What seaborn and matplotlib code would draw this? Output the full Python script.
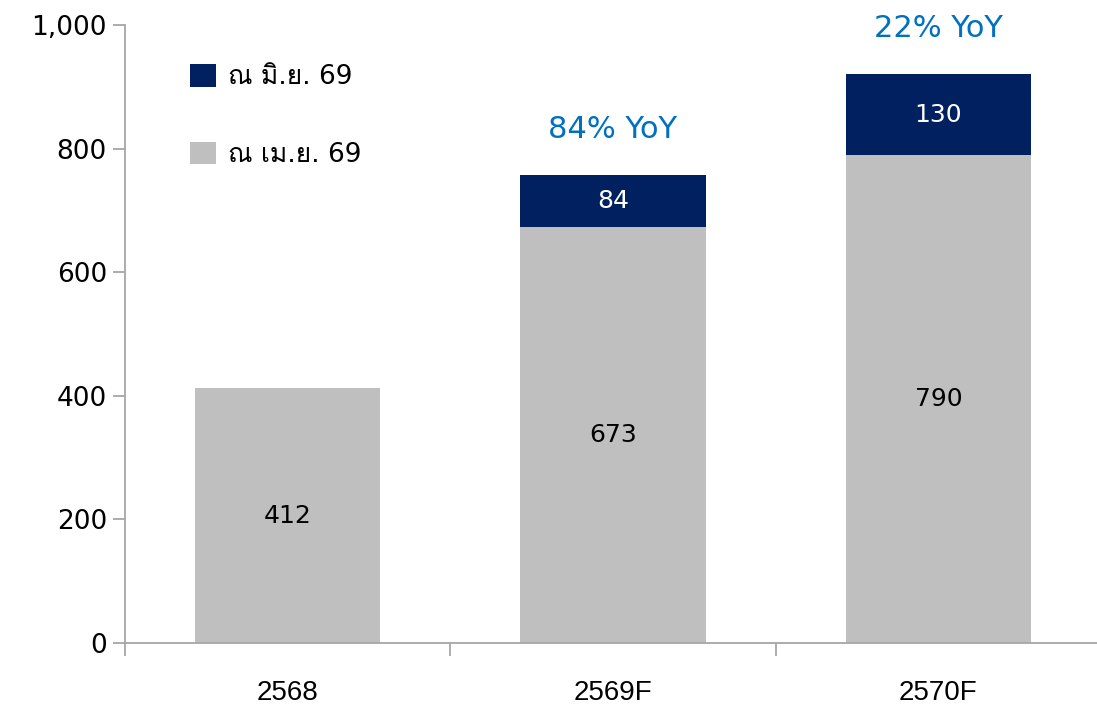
import matplotlib
matplotlib.use("Agg")
import matplotlib.pyplot as plt
import seaborn as sns
import pandas as pd
from matplotlib import font_manager
from matplotlib.patches import Patch
from matplotlib.ticker import FuncFormatter, FixedLocator

years = ["2568", "2569F", "2570F"]
april_values = [412, 673, 790]       # ณ เม.ย. 69
june_increment = [0, 84, 130]        # ณ มิ.ย. 69
yoy_labels = ["", "84% YoY", "22% YoY"]
series_names = ["ณ มิ.ย. 69", "ณ เม.ย. 69"]

GRAY = "#BFBFBF"
NAVY = "#002060"
BLUE = "#0070C0"
AXIS = "#A6A6A6"


def thai_family():
    try:
        from fontTools.ttLib import TTFont
    except Exception:
        return None
    for f in font_manager.fontManager.ttflist:
        try:
            tt = TTFont(f.fname, fontNumber=0, lazy=True)
            cmap = tt.getBestCmap()
            if cmap and 0x0E13 in cmap and 0x0E21 in cmap and 0x0E22 in cmap:
                return f.name
        except Exception:
            continue
    return None


def available(name):
    return any(f.name == name for f in font_manager.fontManager.ttflist)


sns.set_theme(style="white")
thai = thai_family()
families = ["DejaVu Sans"] + ([thai] if thai else [])
plt.rcParams["font.family"] = families
for key in ["text.color", "xtick.labelcolor", "ytick.labelcolor", "axes.labelcolor"]:
    plt.rcParams[key] = "black"

narrow = next((n for n in ["Liberation Sans Narrow", "Liberation Sans"] if available(n)),
              "DejaVu Sans")

df = pd.DataFrame({
    "year": years,
    "april": april_values,
    "total": [a + b for a, b in zip(april_values, june_increment)],
})

fig = plt.figure(figsize=(10.97, 7.08), dpi=100)
ax = fig.add_axes([125 / 1097, 1 - 643 / 708, (1101 - 125) / 1097, (643 - 25) / 708])

sns.barplot(data=df, x="year", y="total", color=NAVY, saturation=1, width=0.57,
            ax=ax, linewidth=0)
sns.barplot(data=df, x="year", y="april", color=GRAY, saturation=1, width=0.57,
            ax=ax, linewidth=0)

ax.set_xlim(-0.5, 2.5)
ax.set_ylim(0, 1000)
ax.set_xlabel("")
ax.set_ylabel("")

# value labels centred in each segment, growth label above each stack
for i, (a, inc) in enumerate(zip(april_values, june_increment)):
    ax.text(i, a / 2, f"{a}", ha="center", va="center", fontsize=18, color="black")
    if inc > 0:
        ax.text(i, a + inc / 2, f"{inc}", ha="center", va="center", fontsize=18,
                color="white")
    if yoy_labels[i]:
        ax.annotate(yoy_labels[i], xy=(i, a + inc), xytext=(0, 33),
                    textcoords="offset points", ha="center", va="center",
                    fontsize=22, color=BLUE)

# axes styling
for side in ["top", "right"]:
    ax.spines[side].set_visible(False)
for side in ["left", "bottom"]:
    ax.spines[side].set_color(AXIS)
    ax.spines[side].set_linewidth(1.3)

ax.yaxis.set_major_locator(FixedLocator([0, 200, 400, 600, 800, 1000]))
ax.yaxis.set_major_formatter(FuncFormatter(lambda v, p: f"{int(v):,}"))
ax.tick_params(axis="y", which="major", direction="out", length=9, width=1.3,
               color=AXIS, labelsize=19, pad=4, left=True)

# category ticks at boundaries, labels at centres
ax.set_xticks([-0.5, 0.5, 1.5, 2.5])
ax.set_xticklabels([])
ax.set_xticks([0, 1, 2], minor=True)
ax.set_xticklabels(years, minor=True, fontfamily=narrow)
ax.tick_params(axis="x", which="major", direction="out", length=9, width=1.3,
               color=AXIS, bottom=True)
ax.tick_params(axis="x", which="minor", length=0, labelsize=20, pad=27)

handles = [Patch(facecolor=NAVY, edgecolor="none"),
           Patch(facecolor=GRAY, edgecolor="none")]
leg = fig.legend(handles, series_names, loc="upper left",
                 bbox_to_anchor=(166 / 1097, 1 - 40 / 708), frameon=False,
                 fontsize=19, handlelength=1.0, handleheight=0.95,
                 handletextpad=0.45, labelspacing=1.95)

fig.savefig("out.png", dpi=100)
